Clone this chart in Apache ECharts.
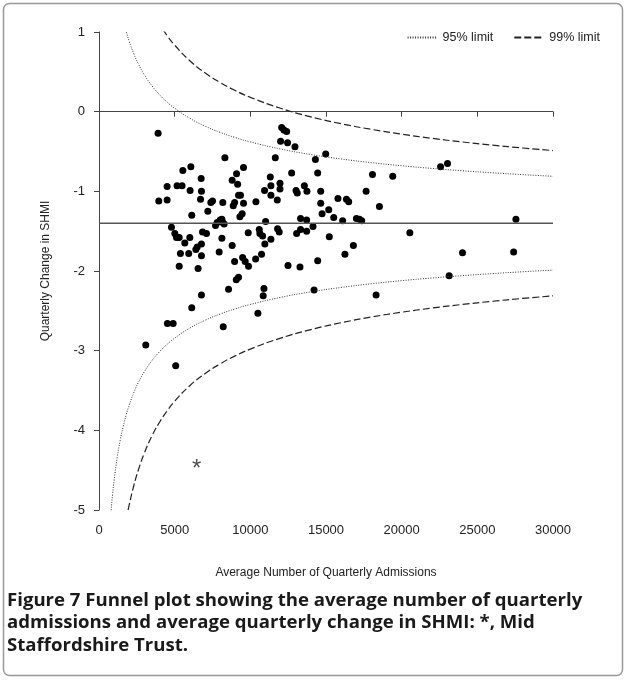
<!DOCTYPE html>
<html>
<head>
<meta charset="utf-8">
<script src="https://cdn.jsdelivr.net/npm/echarts@6/dist/echarts.min.js"></script>
<style>
html,body{margin:0;padding:0;background:#fff;}
#chart{width:627px;height:680px;}
</style>
</head>
<body>
<div id="chart"></div>
<script>
// trusts: average quarterly admissions vs average quarterly change in SHMI
var admissions = [3905,3950,4500,4500,4790,5010,5120,5300,5160,5490,5540,5380,5300,5670,5930,6000,6070,6020,6130,6400,
    6490,6550,6750,6770,6710,6770,6770,6770,6840,7100,7190,7390,7500,7700,7810,7940,8010,8120,8180,8180,
    8120,8270,8320,8800,8800,8870,8960,9090,9160,8960,9070,9220,8560,9220,9350,9310,9460,9550,9550,9490,
    9660,9880,9860,10350,10370,10590,10630,10740,10810,10900,10850,10940,11010,10960,11320,11360,11360,11360,11650,11780,
    11800,11910,11960,11960,12070,12220,12400,12000,12460,12490,12730,12950,13020,13100,13060,13280,13320,13320,13570,13720,
    13740,13720,14140,14210,14300,14450,14450,14650,14650,14740,14980,15180,15220,15510,15790,16100,16250,16350,16500,16810,
    17010,17210,17360,17650,18070,18310,18530,19410,20540,22570,23030,23140,24020,27400,27550,
    3090,4520,4900,5070,6130,8210,10500];
var shmiChange = [-0.27,-1.12,-0.94,-1.11,-1.45,-1.53,-1.58,-1.58,-0.93,-0.93,-0.74,-1.78,-1.94,-1.65,-1.78,-1.58,-0.69,-0.99,-1.30,-1.73,
    -1.70,-1.97,-0.84,-1.00,-1.10,-1.66,-1.81,-2.30,-1.51,-1.53,-1.25,-1.14,-1.12,-1.43,-1.39,-1.76,-1.36,-1.35,-1.14,-1.39,
    -1.59,-1.41,-0.58,-0.86,-1.68,-1.18,-1.14,-0.78,-0.91,-1.88,-2.11,-2.08,-2.23,-1.05,-1.05,-1.32,-1.28,-1.15,-0.70,-1.83,
    -1.88,-1.94,-1.52,-1.85,-1.13,-1.48,-1.53,-1.79,-1.56,-2.22,-2.31,-0.99,-1.38,-1.66,-0.82,-0.93,-1.05,-1.60,-0.58,-1.11,
    -1.47,-1.51,-0.90,-0.97,-0.20,-0.23,-0.25,-0.37,-0.39,-1.93,-0.77,-0.44,-0.99,-1.02,-1.53,-1.95,-1.34,-1.48,-0.93,-1.36,
    -1.00,-1.50,-1.44,-2.24,-0.60,-0.77,-1.87,-1.00,-1.15,-1.28,-0.53,-1.23,-1.57,-1.33,-1.09,-1.37,-1.79,-1.10,-1.13,-1.68,
    -1.34,-1.35,-1.37,-1.00,-0.79,-2.30,-1.19,-0.81,-1.52,-0.69,-0.65,-2.06,-1.77,-1.76,-1.35,
    -2.93,-2.66,-2.66,-3.19,-2.46,-2.70,-2.53];
var midStaffs = [6460, -4.43];
var meanChange = -1.40;
// limit half-widths = k / sqrt(admissions)
var k95 = 102, k99 = 158;
var curveX = [700,800,900,1000,1200,1400,1600,1800,2000,2300,2600,3000,3500,4000,4500,5000,6000,7000,8000,9000,
    10000,12000,14000,16000,18000,20000,22000,24000,26000,28000,30000];

function limitLine(k, sign) {
    return curveX.map(function (x) { return [x, meanChange + sign * k / Math.sqrt(x)]; });
}

var chart = echarts.init(document.getElementById('chart'));
var font = 'Liberation Sans, Arial, sans-serif';
var pts = admissions.map(function (x, i) { return [x, shmiChange[i]]; });

var option = {
    animation: false,
    grid: {left: 99, right: 74, top: 32, bottom: 170},
    legend: {
        right: 22, top: 26, itemWidth: 30, itemHeight: 10, itemGap: 20,
        itemStyle: {opacity: 0},
        textStyle: {fontFamily: font, fontSize: 12.5, color: '#222'},
        data: ['95% limit', '99% limit']
    },
    xAxis: {
        type: 'value', min: 0, max: 30000, interval: 5000,
        name: 'Average Number of Quarterly Admissions', nameLocation: 'middle', nameGap: 57,
        nameTextStyle: {fontFamily: font, fontSize: 12, color: '#222'},
        axisLine: {lineStyle: {color: '#444'}},
        axisTick: {length: 5, lineStyle: {color: '#444'}},
        axisLabel: {fontFamily: font, fontSize: 13, color: '#222', margin: 14, formatter: function (v) { return String(v); }},
        splitLine: {show: false}
    },
    yAxis: {
        type: 'value', min: -5, max: 1, interval: 1,
        name: 'Quarterly Change in SHMI', nameLocation: 'middle', nameGap: 47, nameRotate: 90,
        nameTextStyle: {fontFamily: font, fontSize: 12, color: '#222'},
        axisLine: {show: true, lineStyle: {color: '#444'}},
        axisTick: {show: true, length: 5, lineStyle: {color: '#444'}},
        axisLabel: {fontFamily: font, fontSize: 13, color: '#222', margin: 14},
        splitLine: {show: false}
    },
    series: [
        {name: '95% limit', type: 'line', smooth: true, symbol: 'none', clip: true, data: limitLine(k95, 1),
            lineStyle: {color: '#333', width: 1, type: [1, 1.5]}, itemStyle: {color: '#333'}},
        {name: '95% limit', type: 'line', smooth: true, symbol: 'none', clip: true, data: limitLine(k95, -1),
            lineStyle: {color: '#333', width: 1, type: [1, 1.5]}},
        {name: '99% limit', type: 'line', smooth: true, symbol: 'none', clip: true, data: limitLine(k99, 1),
            lineStyle: {color: '#222', width: 1.2, type: [7, 3]}, itemStyle: {color: '#222'}},
        {name: '99% limit', type: 'line', smooth: true, symbol: 'none', clip: true, data: limitLine(k99, -1),
            lineStyle: {color: '#222', width: 1.2, type: [7, 3]}},
        {name: 'mean', type: 'line', symbol: 'none', data: [[0, meanChange], [30000, meanChange]],
            lineStyle: {color: '#555', width: 1.5}},
        {name: 'trusts', type: 'scatter', symbol: 'circle', symbolSize: 7, data: pts,
            itemStyle: {color: '#000', opacity: 1}},
        {name: 'Mid Staffordshire', type: 'scatter', symbolSize: 1, data: [midStaffs],
            itemStyle: {color: 'transparent'},
            label: {show: true, position: 'inside', formatter: '*', fontFamily: font, fontSize: 24, color: '#222', offset: [0, 5]}}
    ],
    graphic: [
        {type: 'rect', shape: {x: 3.5, y: 3.5, width: 619, height: 672, r: 6},
            style: {fill: 'none', stroke: '#999', lineWidth: 1.5}, silent: true},
        {type: 'text', left: 7, top: 591, style: {
            rich: {b: {fontFamily: 'Open Sans, sans-serif', fontWeight: 'bold', fontSize: 18.6, fill: '#1a1a1a', lineHeight: 22.5}},
            text: '{b|Figure 7 Funnel plot showing the average number of quarterly}\n' +
                  '{b|admissions and average quarterly change in SHMI: *, Mid}\n' +
                  '{b|Staffordshire Trust.}'
        }}
    ]
};
chart.setOption(option);
</script>
</body>
</html>
